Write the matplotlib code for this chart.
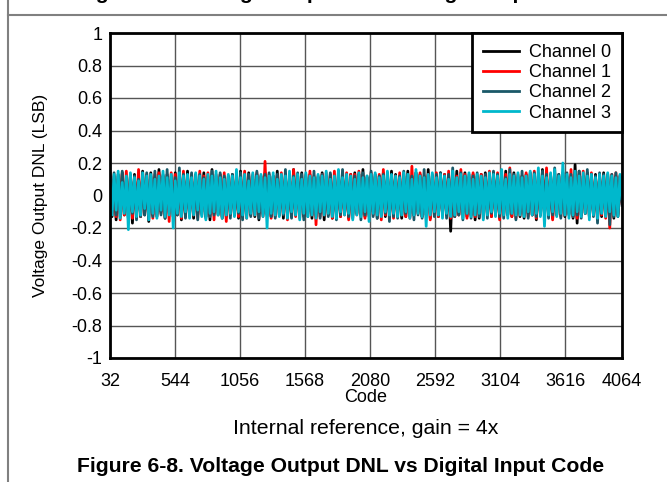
import numpy as np
import matplotlib
matplotlib.use("Agg")
import matplotlib.pyplot as plt
from matplotlib.lines import Line2D

plt.rcParams['font.family'] = ['Liberation Sans', 'DejaVu Sans']

# DNL in LSB, codes 32..4064 in steps of 16
ch0 = [
    0.12, -0.13, 0.10, -0.15, 0.13, -0.11, 0.14, -0.12, 0.09, -0.14, 0.12, -0.17, 0.13, -0.10, 0.11, -0.13, 0.15, -0.12, 0.10, -0.16,
    0.14, -0.12, 0.11, -0.13, 0.16, -0.10, 0.12, -0.14, 0.13, -0.11, 0.10, -0.13, 0.14, -0.12, 0.11, -0.15, 0.12, -0.13, 0.15, -0.11,
    0.10, -0.14, 0.13, -0.12, 0.11, -0.10, 0.14, -0.13, 0.12, -0.15, 0.16, -0.11, 0.10, -0.12, 0.13, -0.14, 0.11, -0.13, 0.12, -0.10,
    0.13, -0.12, 0.11, -0.14, 0.15, -0.13, 0.12, -0.11, 0.14, -0.12, 0.10, -0.13, 0.13, -0.15, 0.12, -0.11, 0.14, -0.12, 0.11, -0.13,
    0.12, -0.10, 0.15, -0.12, 0.11, -0.14, 0.13, -0.12, 0.10, -0.13, 0.16, -0.11, 0.12, -0.12, 0.14, -0.13, 0.11, -0.10, 0.13, -0.14,
    0.11, -0.13, 0.12, -0.11, 0.14, -0.15, 0.10, -0.12, 0.13, -0.14, 0.11, -0.12, 0.15, -0.13, 0.12, -0.11, 0.10, -0.14, 0.13, -0.12,
    0.14, -0.11, 0.13, -0.12, 0.16, -0.13, 0.11, -0.12, 0.12, -0.10, 0.13, -0.14, 0.12, -0.11, 0.14, -0.13, 0.10, -0.12, 0.15, -0.11,
    0.13, -0.12, 0.11, -0.14, 0.12, -0.13, 0.15, -0.11, 0.12, -0.12, 0.14, -0.10, 0.13, -0.13, 0.11, -0.12, 0.16, -0.14, 0.12, -0.11,
    0.10, -0.13, 0.14, -0.12, 0.13, -0.11, 0.12, -0.22, 0.11, -0.13, 0.15, -0.12, 0.12, -0.10, 0.14, -0.13, 0.11, -0.12, 0.13, -0.15,
    0.12, -0.14, 0.13, -0.11, 0.14, -0.12, 0.11, -0.13, 0.14, -0.12, 0.12, -0.14, 0.13, -0.11, 0.15, -0.12, 0.10, -0.13, 0.14, -0.12,
    0.11, -0.13, 0.12, -0.14, 0.13, -0.11, 0.14, -0.12, 0.10, -0.15, 0.13, -0.12, 0.16, -0.13, 0.12, -0.11, 0.13, -0.14, 0.12, -0.12,
    0.13, -0.11, 0.14, -0.13, 0.12, -0.12, 0.11, -0.14, 0.19, -0.17, 0.15, -0.12, 0.12, -0.11, 0.14, -0.13, 0.11, -0.12, 0.13, -0.14,
    0.12, -0.13, 0.14, -0.11, 0.13, -0.12, 0.11, -0.14, 0.12, -0.13, 0.12, -0.04,
]
ch1 = [
    0.14, -0.11, 0.12, -0.13, 0.10, -0.15, 0.13, -0.12, 0.15, -0.11, 0.12, -0.14, 0.11, -0.12, 0.16, -0.13, 0.12, -0.10, 0.13, -0.12,
    0.11, -0.14, 0.13, -0.12, 0.14, -0.11, 0.12, -0.13, 0.10, -0.16, 0.14, -0.12, 0.13, -0.11, 0.12, -0.14, 0.15, -0.12, 0.11, -0.13,
    0.13, -0.12, 0.10, -0.14, 0.15, -0.11, 0.12, -0.13, 0.14, -0.12, 0.11, -0.15, 0.13, -0.10, 0.12, -0.13, 0.14, -0.16, 0.11, -0.12,
    0.12, -0.11, 0.14, -0.13, 0.11, -0.12, 0.15, -0.14, 0.12, -0.10, 0.13, -0.12, 0.14, -0.11, 0.12, -0.13, 0.21, -0.12, 0.13, -0.14,
    0.11, -0.13, 0.12, -0.12, 0.14, -0.11, 0.13, -0.15, 0.11, -0.12, 0.16, -0.13, 0.12, -0.14, 0.10, -0.12, 0.13, -0.11, 0.15, -0.12,
    0.12, -0.18, 0.11, -0.13, 0.13, -0.12, 0.14, -0.11, 0.12, -0.14, 0.15, -0.12, 0.11, -0.13, 0.12, -0.12, 0.14, -0.15, 0.13, -0.11,
    0.13, -0.12, 0.15, -0.11, 0.12, -0.14, 0.11, -0.13, 0.14, -0.12, 0.12, -0.11, 0.13, -0.15, 0.16, -0.12, 0.11, -0.13, 0.12, -0.14,
    0.12, -0.11, 0.14, -0.12, 0.13, -0.13, 0.11, -0.14, 0.18, -0.12, 0.12, -0.11, 0.14, -0.13, 0.12, -0.12, 0.13, -0.15, 0.11, -0.12,
    0.14, -0.13, 0.12, -0.11, 0.13, -0.12, 0.15, -0.14, 0.11, -0.13, 0.12, -0.12, 0.16, -0.11, 0.13, -0.14, 0.12, -0.12, 0.14, -0.13,
    0.11, -0.12, 0.13, -0.14, 0.12, -0.11, 0.15, -0.13, 0.12, -0.12, 0.14, -0.15, 0.11, -0.12, 0.13, -0.11, 0.17, -0.13, 0.12, -0.14,
    0.13, -0.12, 0.12, -0.11, 0.14, -0.13, 0.11, -0.12, 0.15, -0.14, 0.12, -0.12, 0.13, -0.11, 0.17, -0.13, 0.12, -0.15, 0.14, -0.12,
    0.12, -0.13, 0.14, -0.12, 0.11, -0.11, 0.16, -0.13, 0.12, -0.14, 0.13, -0.12, 0.15, -0.11, 0.12, -0.13, 0.14, -0.12, 0.11, -0.15,
    0.13, -0.12, 0.12, -0.14, 0.11, -0.20, 0.13, -0.12, 0.14, -0.11, 0.12, -0.05,
]
ch2 = [
    0.11, -0.10, 0.14, -0.12, 0.12, -0.13, 0.15, -0.10, 0.11, -0.14, 0.13, -0.11, 0.12, -0.15, 0.10, -0.13, 0.12, -0.12, 0.14, -0.11,
    0.12, -0.13, 0.15, -0.11, 0.11, -0.12, 0.13, -0.14, 0.16, -0.10, 0.12, -0.13, 0.11, -0.12, 0.17, -0.11, 0.13, -0.14, 0.12, -0.12,
    0.14, -0.11, 0.12, -0.15, 0.13, -0.12, 0.11, -0.14, 0.10, -0.13, 0.15, -0.12, 0.12, -0.11, 0.14, -0.13, 0.12, -0.12, 0.11, -0.14,
    0.13, -0.12, 0.12, -0.11, 0.14, -0.15, 0.11, -0.12, 0.13, -0.13, 0.12, -0.10, 0.15, -0.14, 0.11, -0.12, 0.13, -0.11, 0.14, -0.13,
    0.12, -0.14, 0.13, -0.11, 0.12, -0.12, 0.16, -0.13, 0.11, -0.14, 0.12, -0.12, 0.14, -0.11, 0.13, -0.15, 0.12, -0.13, 0.11, -0.12,
    0.15, -0.12, 0.11, -0.14, 0.13, -0.11, 0.12, -0.13, 0.14, -0.12, 0.10, -0.15, 0.13, -0.12, 0.16, -0.11, 0.12, -0.13, 0.11, -0.14,
    0.12, -0.11, 0.13, -0.15, 0.14, -0.12, 0.12, -0.11, 0.15, -0.13, 0.11, -0.14, 0.12, -0.12, 0.13, -0.11, 0.14, -0.16, 0.12, -0.13,
    0.11, -0.14, 0.12, -0.12, 0.15, -0.11, 0.13, -0.13, 0.12, -0.15, 0.14, -0.12, 0.11, -0.14, 0.16, -0.12, 0.12, -0.11, 0.13, -0.13,
    0.13, -0.12, 0.14, -0.11, 0.12, -0.14, 0.13, -0.12, 0.17, -0.13, 0.11, -0.12, 0.14, -0.15, 0.12, -0.11, 0.13, -0.14, 0.12, -0.12,
    0.14, -0.13, 0.11, -0.12, 0.13, -0.14, 0.12, -0.11, 0.15, -0.12, 0.13, -0.13, 0.12, -0.14, 0.11, -0.12, 0.16, -0.11, 0.13, -0.15,
    0.12, -0.11, 0.15, -0.12, 0.11, -0.14, 0.13, -0.12, 0.14, -0.13, 0.12, -0.11, 0.15, -0.12, 0.13, -0.14, 0.12, -0.12, 0.17, -0.11,
    0.13, -0.14, 0.12, -0.12, 0.14, -0.11, 0.13, -0.13, 0.11, -0.12, 0.15, -0.14, 0.12, -0.11, 0.16, -0.12, 0.13, -0.13, 0.12, -0.17,
    0.14, -0.11, 0.13, -0.12, 0.12, -0.18, 0.13, -0.13, 0.14, -0.12, 0.11, -0.06,
]
ch3 = [
    0.10, -0.12, 0.13, -0.09, 0.15, -0.14, 0.08, -0.11, 0.12, -0.21, 0.14, -0.10, 0.11, -0.13, 0.09, -0.12, 0.14, -0.08, 0.12, -0.15,
    0.13, -0.11, 0.10, -0.14, 0.12, -0.09, 0.15, -0.13, 0.11, -0.12, 0.13, -0.20, 0.09, -0.11, 0.14, -0.13, 0.12, -0.10, 0.13, -0.14,
    0.11, -0.12, 0.14, -0.09, 0.12, -0.13, 0.10, -0.15, 0.13, -0.11, 0.12, -0.10, 0.15, -0.12, 0.11, -0.14, 0.10, -0.12, 0.13, -0.11,
    0.12, -0.13, 0.16, -0.10, 0.11, -0.12, 0.13, -0.14, 0.09, -0.11, 0.14, -0.12, 0.12, -0.10, 0.13, -0.13, 0.11, -0.20, 0.12, -0.11,
    0.14, -0.12, 0.10, -0.13, 0.13, -0.11, 0.12, -0.14, 0.15, -0.10, 0.11, -0.12, 0.13, -0.15, 0.10, -0.11, 0.14, -0.13, 0.12, -0.12,
    0.11, -0.14, 0.13, -0.10, 0.12, -0.12, 0.15, -0.11, 0.10, -0.13, 0.12, -0.14, 0.16, -0.10, 0.11, -0.12, 0.13, -0.11, 0.12, -0.15,
    0.10, -0.12, 0.14, -0.13, 0.11, -0.10, 0.12, -0.16, 0.13, -0.11, 0.14, -0.12, 0.11, -0.13, 0.12, -0.10, 0.15, -0.12, 0.13, -0.11,
    0.12, -0.13, 0.11, -0.12, 0.14, -0.10, 0.13, -0.14, 0.10, -0.12, 0.16, -0.11, 0.12, -0.13, 0.11, -0.19, 0.13, -0.12, 0.14, -0.10,
    0.11, -0.12, 0.13, -0.14, 0.12, -0.11, 0.10, -0.13, 0.15, -0.12, 0.11, -0.10, 0.13, -0.14, 0.12, -0.11, 0.14, -0.13, 0.10, -0.12,
    0.13, -0.11, 0.12, -0.15, 0.11, -0.12, 0.14, -0.10, 0.13, -0.13, 0.12, -0.11, 0.16, -0.12, 0.10, -0.14, 0.13, -0.11, 0.12, -0.12,
    0.14, -0.12, 0.11, -0.13, 0.12, -0.10, 0.15, -0.12, 0.13, -0.11, 0.17, -0.13, 0.12, -0.19, 0.11, -0.12, 0.14, -0.10, 0.16, -0.13,
    0.12, -0.11, 0.20, -0.12, 0.13, -0.14, 0.11, -0.12, 0.15, -0.10, 0.12, -0.13, 0.14, -0.11, 0.12, -0.15, 0.13, -0.12, 0.11, -0.14,
    0.13, -0.11, 0.12, -0.13, 0.14, -0.10, 0.12, -0.12, 0.11, -0.13, 0.13, -0.02,
]

labels = ["Channel 0", "Channel 1", "Channel 2", "Channel 3"]
colors = ["#000000", "#ff0000", "#1a5868", "#00b8cc"]
xticks = [32, 544, 1056, 1568, 2080, 2592, 3104, 3616, 4064]
yticks = [-1, -0.8, -0.6, -0.4, -0.2, 0, 0.2, 0.4, 0.6, 0.8, 1]
ytick_labels = ["-1", "-0.8", "-0.6", "-0.4", "-0.2", "0", "0.2", "0.4", "0.6", "0.8", "1"]

W, H = 667, 482
fig = plt.figure(figsize=(W / 100, H / 100), dpi=100)
ax = fig.add_axes([110 / W, (H - 358) / H, 512 / W, 325 / H])

for vals, lab, col in zip([ch0, ch1, ch2, ch3], labels, colors):
    codes = np.linspace(32, 4064, len(vals))
    ax.plot(codes, vals, color=col, lw=2, label=lab)

ax.set_xlim(32, 4064)
ax.set_ylim(-1, 1)
ax.set_xticks(xticks)
ax.set_xticklabels([str(t) for t in xticks])
ax.set_yticks(yticks)
ax.set_yticklabels(ytick_labels)
ax.tick_params(axis="x", length=0, labelsize=13, pad=10.5)
ax.tick_params(axis="y", length=0, labelsize=13, pad=5.5)
ax.grid(color="#555555", lw=1)
ax.set_axisbelow(True)
for s in ax.spines.values():
    s.set_linewidth(2)

ax.set_ylabel("Voltage Output DNL (LSB)", fontsize=12.5)
ax.yaxis.set_label_coords((48 - 110) / 512, 0.5)

leg = ax.legend(loc="upper right", fontsize=13, borderaxespad=0, fancybox=False,
                framealpha=1, edgecolor="black", handlelength=2.0, handletextpad=0.55,
                labelspacing=0.18, borderpad=0.6)
leg.get_frame().set_linewidth(2)

cx = 366 / W
fig.text(cx, 1 - 398 / H, "Code", ha="center", va="center", fontsize=13)
fig.text(cx, 1 - 429 / H, "Internal reference, gain = 4x", ha="center", va="center", fontsize=15.3)
fig.text(341 / W, 1 - 467 / H, "Figure 6-8. Voltage Output DNL vs Digital Input Code",
         ha="center", va="center", fontsize=15.2, fontweight="bold")
fig.text(341 / W, 1 + 1 / H, "Figure 6-7. Voltage Output DNL vs Digital Input Code",
         ha="center", va="baseline", fontsize=15.2, fontweight="bold")

fig.add_artist(Line2D([8 / W, 8 / W], [0, 1], transform=fig.transFigure, color="#808080", lw=1.5))
fig.add_artist(Line2D([8 / W, 1], [1 - 14.5 / H] * 2, transform=fig.transFigure, color="#808080", lw=1.5))

fig.savefig("out.png", dpi=100)
